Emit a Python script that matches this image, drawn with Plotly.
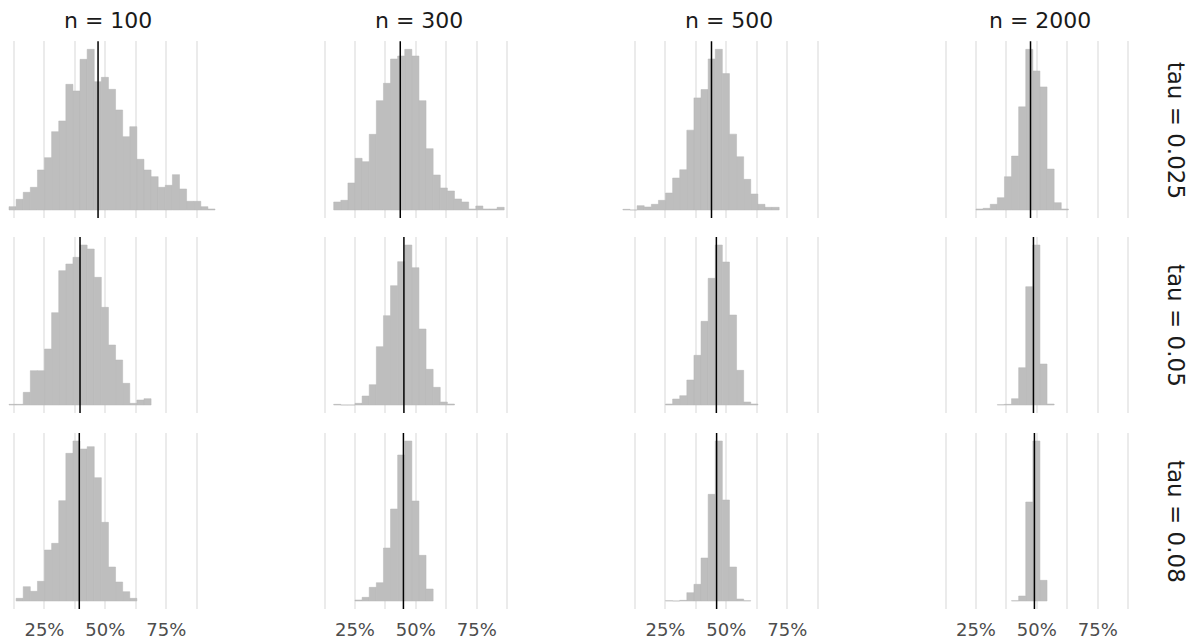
import plotly.graph_objects as go

# ---- data -------------------------------------------------------------
n_labels = ["n = 100", "n = 300", "n = 500", "n = 2000"]
tau_labels = ["tau = 0.025", "tau = 0.05", "tau = 0.08"]

# histogram bin grid shared by all panels (fraction scale)
BIN_START = 0.1045     # left edge of bin index 0
BIN_WIDTH = 0.02916

tick_vals = [0.125, 0.25, 0.375, 0.5, 0.625, 0.75, 0.875]
tick_text = ["", "25%", "", "50%", "", "75%", ""]

# counts per panel; first_bin = index of the first bin listed
first_tau025_n100 = 0
counts_tau025_n100 = [10, 32, 53, 68, 120, 157, 235, 267, 377, 357, 452, 482, 385, 398, 362,
                      300, 220, 250, 152, 120, 100, 68, 74, 106, 63, 26, 26, 10, 3]
first_tau025_n300 = 2
counts_tau025_n300 = [24, 29, 81, 155, 145, 227, 328, 380, 453, 462, 482, 462, 328, 184, 105,
                      66, 57, 33, 24, 3, 12, 3, 3, 8]
first_tau025_n500 = -1
counts_tau025_n500 = [2, 0, 13, 9, 17, 29, 51, 96, 121, 240, 337, 362, 454, 483, 410, 228,
                      160, 92, 48, 17, 8, 8]
first_tau025_n2000 = 5
counts_tau025_n2000 = [3, 5, 17, 37, 100, 162, 310, 483, 418, 370, 123, 22, 3]

first_tau05_n100 = 0
counts_tau05_n100 = [2, 2, 38, 103, 103, 168, 277, 403, 423, 443, 480, 468, 383, 293, 180,
                     135, 65, 5, 15, 19]
first_tau05_n300 = 2
counts_tau05_n300 = [2, 0, 0, 5, 27, 61, 175, 268, 358, 430, 480, 412, 228, 107, 53, 9, 3]
first_tau05_n500 = 5
counts_tau05_n500 = [3, 18, 28, 75, 149, 251, 380, 480, 429, 270, 104, 9, 3]
first_tau05_n2000 = 8
counts_tau05_n2000 = [1, 2, 19, 112, 355, 480, 123, 3]

first_tau08_n100 = 1
counts_tau08_n100 = [8, 43, 29, 59, 153, 173, 301, 443, 480, 456, 463, 370, 236, 102, 57, 28, 8]
first_tau08_n300 = 5
counts_tau08_n300 = [3, 11, 41, 55, 159, 276, 438, 480, 300, 137, 36]
first_tau08_n500 = 5
counts_tau08_n500 = [1, 0, 2, 25, 50, 129, 320, 480, 303, 102, 6, 1]
first_tau08_n2000 = 10
counts_tau08_n2000 = [1, 15, 297, 480, 62]

# reference (vertical line) values per panel
vline_tau025 = [0.470, 0.436, 0.439, 0.474]
vline_tau05 = [0.396, 0.451, 0.459, 0.486]
vline_tau08 = [0.393, 0.449, 0.460, 0.490]

panels = [
    [(first_tau025_n100, counts_tau025_n100), (first_tau025_n300, counts_tau025_n300),
     (first_tau025_n500, counts_tau025_n500), (first_tau025_n2000, counts_tau025_n2000)],
    [(first_tau05_n100, counts_tau05_n100), (first_tau05_n300, counts_tau05_n300),
     (first_tau05_n500, counts_tau05_n500), (first_tau05_n2000, counts_tau05_n2000)],
    [(first_tau08_n100, counts_tau08_n100), (first_tau08_n300, counts_tau08_n300),
     (first_tau08_n500, counts_tau08_n500), (first_tau08_n2000, counts_tau08_n2000)],
]
vlines = [vline_tau025, vline_tau05, vline_tau08]

# ---- layout geometry (pixels) ----------------------------------------
W, H = 1198, 642
X_MIN, X_MAX = 0.0675, 0.9937
PX0, PX_PER_UNIT = -16.45, 243.6      # px = PX0 + PX_PER_UNIT * value (column 1)
COL_STEP = 310.5
ROW_PX = [(41.3, 218.0), (237.0, 413.0), (433.0, 609.0)]

BAR_COLOR = "#bebebe"
GRID_COLOR = "#ebebeb"
FONT = "DejaVu Sans"

fig = go.Figure()
layout = dict(
    width=W, height=H,
    margin=dict(l=0, r=0, t=0, b=0),
    paper_bgcolor="white", plot_bgcolor="white",
    showlegend=False,
    font=dict(family=FONT),
)
shapes = []
annotations = []

for r in range(3):
    for c in range(4):
        i = r * 4 + c + 1
        sfx = "" if i == 1 else str(i)
        first, counts = panels[r][c]
        centers = [BIN_START + BIN_WIDTH * (first + k + 0.5) for k in range(len(counts))]
        fig.add_trace(go.Bar(
            x=centers, y=counts, width=BIN_WIDTH,
            marker=dict(color=BAR_COLOR, line=dict(width=0.5, color="#b6b6b6")),
            xaxis="x" + sfx, yaxis="y" + sfx, hoverinfo="x+y",
        ))
        left = c * COL_STEP + PX0 + PX_PER_UNIT * X_MIN
        right = c * COL_STEP + PX0 + PX_PER_UNIT * X_MAX
        top, bot = ROW_PX[r]
        ymax = max(counts)
        layout["xaxis" + sfx] = dict(
            domain=[max(0, left / W), min(1, right / W)],
            anchor="y" + sfx, range=[X_MIN, X_MAX],
            tickmode="array", tickvals=tick_vals, ticktext=tick_text,
            showticklabels=(r == 2), ticks="",
            showgrid=True, gridcolor=GRID_COLOR, gridwidth=1.5,
            zeroline=False, showline=False,
            tickfont=dict(family=FONT, size=18, color="#4d4d4d"),
            ticklabelstandoff=8,
        )
        layout["yaxis" + sfx] = dict(
            domain=[1 - bot / H, 1 - top / H],
            anchor="x" + sfx, range=[-0.05 * ymax, 1.05 * ymax],
            showgrid=False, showticklabels=False, zeroline=False, showline=False, ticks="",
        )
        shapes.append(dict(
            type="line", xref="x" + sfx, yref="y" + sfx + " domain",
            x0=vlines[r][c], x1=vlines[r][c], y0=0, y1=1,
            line=dict(color="black", width=1.5), layer="above",
        ))

# column strip titles
for c, lab in enumerate(n_labels):
    cx = c * COL_STEP + PX0 + PX_PER_UNIT * 0.5125
    annotations.append(dict(
        text=lab, x=cx / W, y=1 - 20.5 / H, xref="paper", yref="paper",
        xanchor="center", yanchor="middle", showarrow=False,
        font=dict(family=FONT, size=22, color="#1a1a1a"),
    ))
# row strip titles
for r, lab in enumerate(tau_labels):
    top, bot = ROW_PX[r]
    annotations.append(dict(
        text=lab, x=1176 / W, y=1 - (top + bot) / 2 / H, xref="paper", yref="paper",
        xanchor="center", yanchor="middle", showarrow=False, textangle=90,
        font=dict(family=FONT, size=23, color="#1a1a1a"),
    ))

layout["shapes"] = shapes
layout["annotations"] = annotations
fig.update_layout(**layout)
fig.write_html("out.html", config={"displayModeBar": False})

# remove the default page margin so the figure sits at the window's top-left corner
with open("out.html", "r", encoding="utf-8") as fh:
    html = fh.read()
html = html.replace("<head>", "<head><style>html,body{margin:0;padding:0;overflow:hidden;}</style>", 1)
with open("out.html", "w", encoding="utf-8") as fh:
    fh.write(html)
